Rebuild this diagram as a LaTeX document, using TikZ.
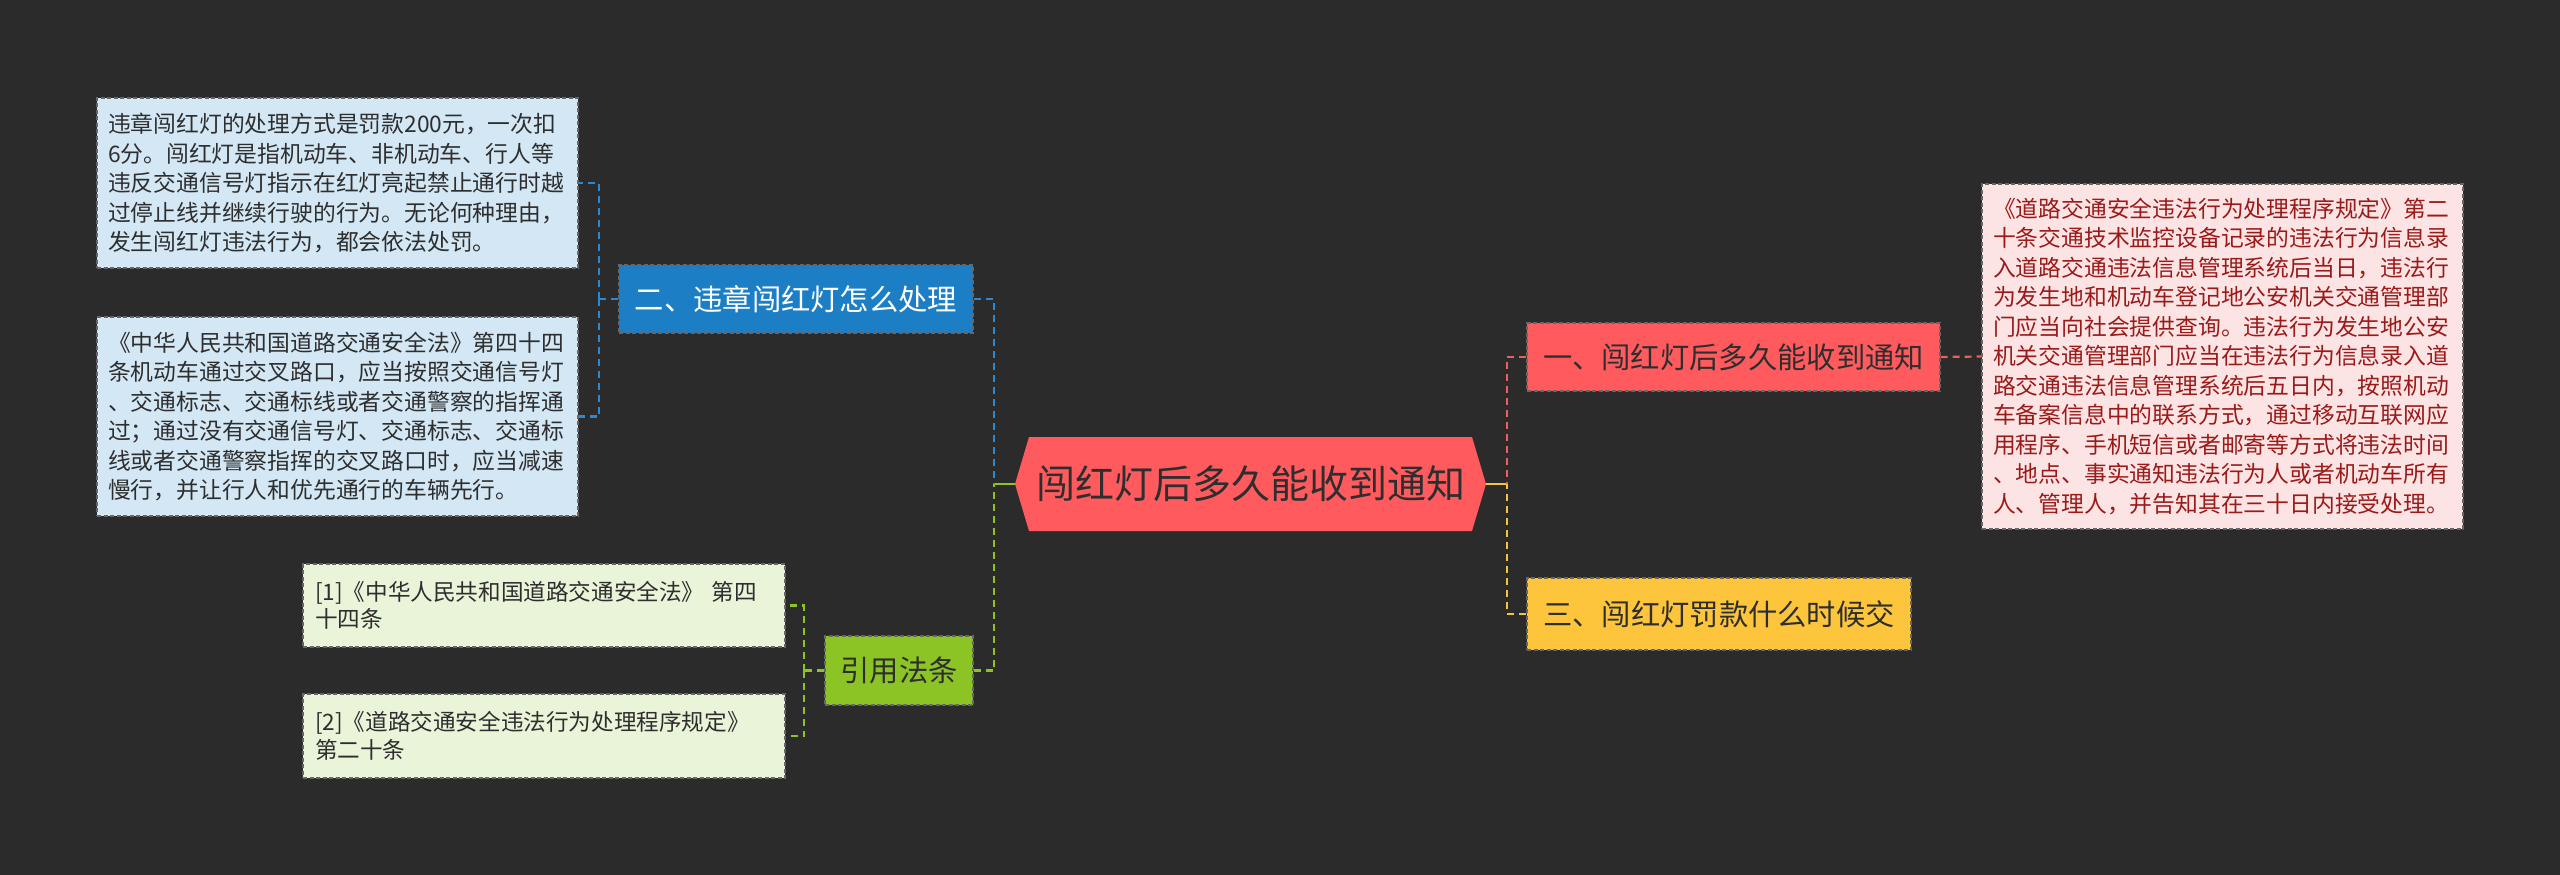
\documentclass[tikz,border=0pt]{standalone}
\usepackage{fontspec}
\setmainfont{Noto Sans CJK SC}
\definecolor{bg}{HTML}{2B2B2B}
\definecolor{rootc}{HTML}{FF5B5E}
\definecolor{bluec}{HTML}{1C7FC6}
\definecolor{yellowc}{HTML}{FDC53C}
\definecolor{greenc}{HTML}{8CC425}
\definecolor{lblue}{HTML}{D3E7F5}
\definecolor{lpink}{HTML}{FDE4E4}
\definecolor{lgreen}{HTML}{E9F4D9}
\definecolor{txt}{HTML}{2E2E2E}
\definecolor{dred}{HTML}{9A1A1A}
\definecolor{lineblue}{HTML}{2A89D2}
\definecolor{linered}{HTML}{E8605F}
\definecolor{lineyellow}{HTML}{F3C443}
\definecolor{linegreen}{HTML}{8CC425}
\tikzset{
  box/.style={rectangle, draw=black!60, dash pattern=on 4pt off 2.5pt, line width=1.3pt, inner ysep=0pt},
  leaf/.style={box, align=left, inner xsep=11pt, font=\fontsize{22.8}{29.5}\selectfont, text=txt},
  refleaf/.style={box, align=left, inner xsep=12pt, font=\fontsize{22.6}{27.5}\selectfont, text=txt},
  mid/.style={box, align=center, inner xsep=0pt, font=\fontsize{29.3}{35}\selectfont, text=txt},
  conn/.style={line width=2.2pt, dash pattern=on 7pt off 5pt},
  solidconn/.style={line width=2.6pt}
}
\begin{document}
\begin{tikzpicture}[x=1pt,y=-1pt]
\fill[bg] (0,0) rectangle (2560,875);
\useasboundingbox (0,0) rectangle (2560,875);

% root hexagon
\fill[rootc] (1015,484) -- (1029,437) -- (1472,437) -- (1486,484) -- (1472,531) -- (1029,531) -- cycle;
\node[minimum width=471pt, minimum height=94pt, inner sep=0pt, font=\fontsize{39}{46}\selectfont, text=txt] (root) at (1250.5,484) {闯红灯后多久能收到通知};

% main branches
\node[mid, fill=bluec, text=white, minimum width=354pt, minimum height=68pt] (blue) at (796,299) {二、违章闯红灯怎么处理};
\node[mid, fill=greenc, minimum width=148pt, minimum height=69pt] (green) at (899,670.5) {引用法条};
\node[mid, fill=rootc, minimum width=413pt, minimum height=68pt] (red) at (1733.5,357) {一、闯红灯后多久能收到通知};
\node[mid, fill=yellowc, minimum width=384pt, minimum height=72pt] (yellow) at (1719,614) {三、闯红灯罚款什么时候交};

% leaves
\node[leaf, fill=lblue, text width=459pt, minimum height=170pt] (leafa) at (337.5,183) {违章闯红灯的处理方式是罚款200元，一次扣\\6分。闯红灯是指机动车、非机动车、行人等\\违反交通信号灯指示在红灯亮起禁止通行时越\\过停止线并继续行驶的行为。无论何种理由，\\发生闯红灯违法行为，都会依法处罚。};
\node[leaf, fill=lblue, text width=459pt, minimum height=199pt] (leafb) at (337.5,416.5) {《中华人民共和国道路交通安全法》第四十四\\条机动车通过交叉路口，应当按照交通信号灯\\、交通标志、交通标线或者交通警察的指挥通\\过；通过没有交通信号灯、交通标志、交通标\\线或者交通警察指挥的交叉路口时，应当减速\\慢行，并让行人和优先通行的车辆先行。};
\node[refleaf, fill=lgreen, text width=458pt, minimum height=83pt] (refa) at (544,605.5) {[1]《中华人民共和国道路交通安全法》 第四\\十四条};
\node[refleaf, fill=lgreen, text width=458pt, minimum height=84pt] (refb) at (544,736) {[2]《道路交通安全违法行为处理程序规定》\\第二十条};
\node[leaf, fill=lpink, text=dred, text width=459pt, minimum height=345pt] (leafr) at (2222.5,356.5) {《道路交通安全违法行为处理程序规定》第二\\十条交通技术监控设备记录的违法行为信息录\\入道路交通违法信息管理系统后当日，违法行\\为发生地和机动车登记地公安机关交通管理部\\门应当向社会提供查询。违法行为发生地公安\\机关交通管理部门应当在违法行为信息录入道\\路交通违法信息管理系统后五日内，按照机动\\车备案信息中的联系方式，通过移动互联网应\\用程序、手机短信或者邮寄等方式将违法时间\\、地点、事实通知违法行为人或者机动车所有\\人、管理人，并告知其在三十日内接受处理。};

% junctions
\coordinate (jL) at (994,484);
\coordinate (jR) at (1507,484);
\coordinate (bJ) at (599,299);
\coordinate (gJ) at (804,670.5);

% connectors
\draw[solidconn, linegreen] (root.west) -- (jL);
\draw[solidconn, lineyellow] (root.east) -- (jR);
\draw[conn, lineblue] (blue.east) -| (jL);
\draw[conn, linegreen] (green.east) -| (jL);
\draw[conn, linered] (red.west) -| (jR);
\draw[conn, lineyellow] (yellow.west) -| (jR);
\draw[conn, linered] (red.east) -- (leafr.west);
\draw[conn, lineblue] (blue.west) -- (bJ);
\draw[conn, lineblue] (bJ) |- (leafa.east);
\draw[conn, lineblue] (bJ) |- (leafb.east);
\draw[conn, linegreen] (green.west) -- (gJ);
\draw[conn, linegreen] (gJ) |- (refa.east);
\draw[conn, linegreen] (gJ) |- (refb.east);
\end{tikzpicture}
\end{document}
